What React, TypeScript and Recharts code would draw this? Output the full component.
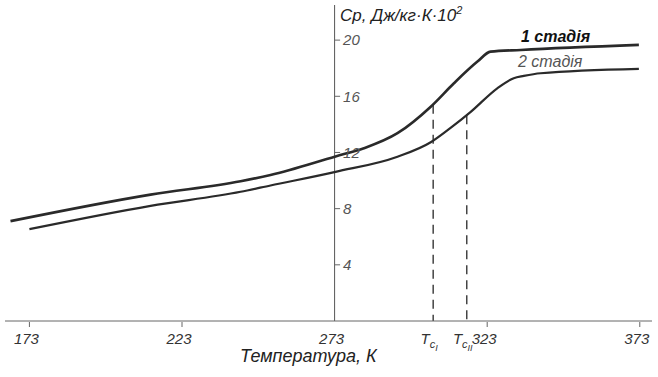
import React from 'react';
import { LineChart, Line, XAxis, YAxis, ReferenceLine } from 'recharts';

const stage1T = [166.8, 212.7, 242.2, 252.0, 273.3, 282.6, 293.6, 304.5, 312.1, 319.8, 324.1, 334, 372.7];
const stage1Cp = [7.11, 9.0, 9.95, 10.4, 11.72, 12.3, 13.37, 15.26, 16.93, 18.47, 19.18, 19.3, 19.66];
const stage2T = [173, 212.7, 242.2, 252.0, 273.3, 293.6, 304.5, 311.0, 317.6, 326.3, 331.7, 335, 340.5, 372.7];
const stage2Cp = [6.54, 8.2, 9.2, 9.65, 10.62, 11.7, 12.73, 13.75, 14.89, 16.57, 17.29, 17.45, 17.64, 17.95];

const Tc1 = 305.3;
const Tc2 = 316.3;
const tc1Cp = 15.4;
const tc2Cp = 14.65;

const xTicks = [173, 223, 273, Tc1, Tc2, 323, 373];
const xTickLabels = ['173', '223', '273', 'TcI', 'TcII', '323', '373'];
const yTicks = [4, 8, 12, 16, 20];

const stage1 = stage1T.map((t, i) => ({ t, cp: stage1Cp[i] }));
const stage2 = stage2T.map((t, i) => ({ t, cp: stage2Cp[i] }));

const FONT = '"Liberation Sans", Arial, sans-serif';

const XTick = (props: any) => {
  const { x, y, payload } = props;
  const idx = xTicks.indexOf(payload.value);
  const label = xTickLabels[idx] ?? String(payload.value);
  const isTc = label.startsWith('Tc');
  return (
    <g>
      {!isTc && label !== '273' && (
        <line x1={x} x2={x} y1={y - 5} y2={y} stroke="#666" strokeWidth={1} />
      )}
      {isTc ? (
        <text x={x - 4} y={y + 17} fontFamily={FONT} fontStyle="italic" fontSize={15} fill="#333" textAnchor="middle">
          <tspan>T</tspan>
          <tspan dy={4} fontSize={11}>c</tspan>
          <tspan dy={3} fontSize={9}>{label.slice(2)}</tspan>
        </text>
      ) : (
        <text x={x - 3} y={y + 17} fontFamily={FONT} fontStyle="italic" fontSize={15} fill="#333" textAnchor="middle">
          {label}
        </text>
      )}
    </g>
  );
};

export default function App() {
  return (
    <div style={{ position: 'absolute', left: 0, top: 0, width: 658, height: 377, background: '#fff' }}>
      <LineChart width={658} height={377} margin={{ top: 5, right: 6, bottom: 0, left: 5 }}>
        <XAxis
          type="number"
          dataKey="t"
          domain={[165, 377]}
          ticks={xTicks}
          tick={<XTick />}
          tickLine={false}
          tickMargin={0}
          height={56}
          axisLine={{ stroke: '#666', strokeWidth: 1 }}
          allowDuplicatedCategory={false}
          interval={0}
        />
        <YAxis type="number" dataKey="cp" domain={[0, 22.5]} hide />
        <ReferenceLine x={273} stroke="#555" strokeWidth={1} />
        {yTicks.map((v) => (
          <ReferenceLine
            key={v}
            segment={[{ x: 273, y: v }, { x: 274.8, y: v }]}
            stroke="#666"
            strokeWidth={1}
            label={{ value: String(v), position: 'right', offset: 3, fill: '#555', fontSize: 15, fontStyle: 'italic', fontFamily: FONT }}
          />
        ))}
        <ReferenceLine
          segment={[{ x: Tc1, y: tc1Cp }, { x: Tc1, y: 0 }]}
          stroke="#444"
          strokeWidth={1.5}
          strokeDasharray="9 6"
        />
        <ReferenceLine
          segment={[{ x: Tc2, y: tc2Cp }, { x: Tc2, y: 0 }]}
          stroke="#444"
          strokeWidth={1.5}
          strokeDasharray="9 6"
        />
        <Line data={stage1} dataKey="cp" type="monotone" stroke="#2a2a2a" strokeWidth={2.6} dot={false} isAnimationActive={false} />
        <Line data={stage2} dataKey="cp" type="monotone" stroke="#2a2a2a" strokeWidth={2.2} dot={false} isAnimationActive={false} />
      </LineChart>
      <div style={{ position: 'absolute', left: 340, top: 4, fontFamily: FONT, fontStyle: 'italic', fontSize: 17, color: '#222', whiteSpace: 'nowrap' }}>
        Ср, Дж/кг·К·10<sup style={{ fontSize: 11 }}>2</sup>
      </div>
      <div style={{ position: 'absolute', left: 521, top: 28, fontFamily: FONT, fontStyle: 'italic', fontWeight: 'bold', fontSize: 16, color: '#111', whiteSpace: 'nowrap' }}>
        1 стадія
      </div>
      <div style={{ position: 'absolute', left: 518, top: 53, fontFamily: FONT, fontStyle: 'italic', fontSize: 16, color: '#555', whiteSpace: 'nowrap' }}>
        2 стадія
      </div>
      <div style={{ position: 'absolute', left: 240, top: 346, fontFamily: FONT, fontStyle: 'italic', fontSize: 18, color: '#222', whiteSpace: 'nowrap' }}>
        Температура, К
      </div>
    </div>
  );
}
